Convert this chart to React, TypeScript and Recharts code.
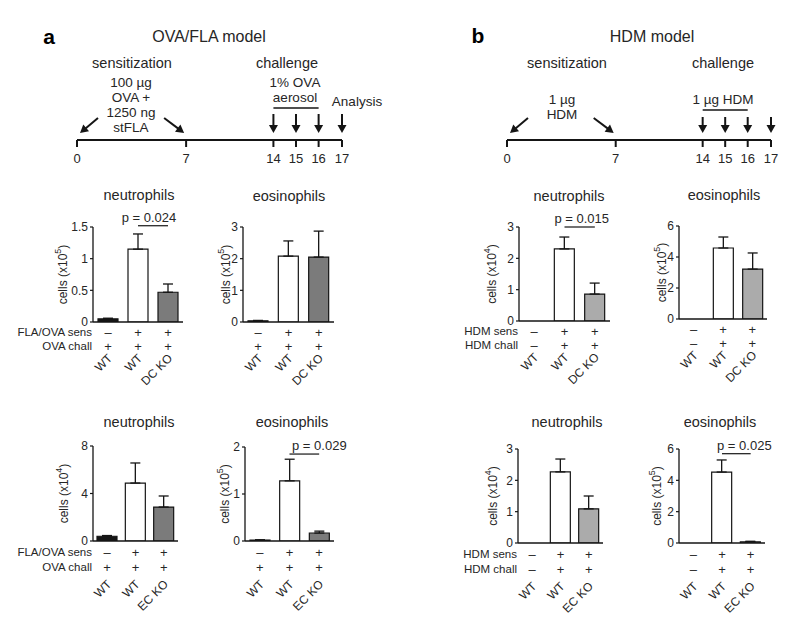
import React from 'react';
import {
  BarChart, Bar, XAxis, YAxis, ErrorBar, Cell, ReferenceLine, ScatterChart, Scatter,
} from 'recharts';

const FONT = '"Liberation Sans", Arial, Helvetica, sans-serif';
const INK = '#262626';
const LINE = '#151515';

// ---- timeline (schematic, compressed after day 7) ----
const timelineDays = ['0', '7', '14', '15', '16', '17'];
const timelinePos = [0, 7, 12.6, 14.05, 15.5, 17];
const arrowDirs = ['dl', 'dr', 'd', 'd', 'd', 'd'];

// ---- groups and row annotations ----
const groups = ['ctrl', 'wt', 'ko'];
const ovaSens = ['–', '+', '+'];
const ovaChall = ['+', '+', '+'];
const hdmSens = ['–', '+', '+'];
const hdmChall = ['–', '+', '+'];
const dcGenotypes = ['WT', 'WT', 'DC KO'];
const ecGenotypes = ['WT', 'WT', 'EC KO'];

// ---- values (mean, sem) ----
const ovaDcNeutro = [0.05, 1.15, 0.47];
const ovaDcNeutroSem = [0.01, 0.24, 0.13];
const ovaDcEos = [0.04, 2.08, 2.05];
const ovaDcEosSem = [0.01, 0.48, 0.82];
const ovaEcNeutro = [0.4, 4.88, 2.86];
const ovaEcNeutroSem = [0.06, 1.69, 0.93];
const ovaEcEos = [0.02, 1.28, 0.17];
const ovaEcEosSem = [0.005, 0.46, 0.04];
const hdmDcNeutro = [0, 2.3, 0.86];
const hdmDcNeutroSem = [0, 0.38, 0.35];
const hdmDcEos = [0, 4.58, 3.22];
const hdmDcEosSem = [0, 0.71, 1.04];
const hdmEcNeutro = [0, 2.27, 1.09];
const hdmEcNeutroSem = [0, 0.41, 0.41];
const hdmEcEos = [0, 4.53, 0.08];
const hdmEcEosSem = [0, 0.77, 0.03];

// ---- tick sets ----
const ticks15 = [0, 0.5, 1, 1.5];
const ticks2 = [0, 1, 2];
const ticks3 = [0, 1, 2, 3];
const ticks6 = [0, 2, 4, 6];
const ticks8 = [0, 4, 8];

const colorsA = ['#151515', '#ffffff', '#7b7b7b'];
const colorsB = ['#151515', '#ffffff', '#ababab'];

const rowsTop = [10, 24, 37];
const rowsBottom = [11, 26, 44];

const T = ({ x, y, size = 14, bold = false, children }: any) => (
  <div
    style={{
      position: 'absolute', left: x, top: y, transform: 'translate(-50%, -50%)',
      fontSize: size, fontWeight: bold ? 700 : 400, whiteSpace: 'nowrap', lineHeight: 1,
      color: bold ? '#000' : INK,
    }}
  >
    {children}
  </div>
);

function TimelineArrow(props: any) {
  const { cx, cy, payload, len } = props;
  let tail, head;
  if (payload.dir === 'dl') {
    tail = [cx + 21, cy - 22];
    head = [cx + 3, cy - 7];
  } else if (payload.dir === 'dr') {
    tail = [cx - 22, cy - 22];
    head = [cx - 2, cy - 7];
  } else {
    tail = [cx, cy - 7 - len];
    head = [cx, cy - 7];
  }
  const dx = head[0] - tail[0];
  const dy = head[1] - tail[1];
  const d = Math.sqrt(dx * dx + dy * dy);
  const ux = dx / d, uy = dy / d;
  const nx = -uy, ny = ux;
  const hl = 8, hw = 4.5;
  const bx = head[0] - ux * hl, by = head[1] - uy * hl;
  return (
    <g>
      <line x1={tail[0]} y1={tail[1]} x2={bx + ux * 2} y2={by + uy * 2} stroke={LINE} strokeWidth={2} />
      <polygon
        points={`${head[0]},${head[1]} ${bx + nx * hw},${by + ny * hw} ${bx - nx * hw},${by - ny * hw}`}
        fill={LINE}
      />
    </g>
  );
}

function Timeline({ left, plotLeft, plotRight, arrowLen, underline }: any) {
  const W = 400;
  const data = timelinePos.map((p, i) => ({ pos: p, y: 0, dir: arrowDirs[i] }));
  return (
    <div style={{ position: 'absolute', left, top: 0 }}>
      <ScatterChart width={W} height={180} margin={{ top: 100, right: W - plotRight, bottom: 10, left: plotLeft }}>
        <XAxis
          type="number" dataKey="pos" domain={[0, 17]} ticks={timelinePos} interval={0}
          tickFormatter={(v: number) => timelineDays[timelinePos.indexOf(v)]}
          height={30} tickSize={7} tickMargin={7}
          axisLine={{ stroke: LINE, strokeWidth: 2 }}
          tickLine={{ stroke: LINE, strokeWidth: 2 }}
          tick={{ fill: INK, fontSize: 13, fontFamily: FONT }}
        />
        <YAxis type="number" dataKey="y" domain={[0, 1]} hide width={0} />
        <ReferenceLine
          segment={[{ x: timelinePos[2], y: underline }, { x: timelinePos[4], y: underline }]}
          stroke={LINE} strokeWidth={1.5} ifOverflow="visible"
        />
        <Scatter
          data={data}
          isAnimationActive={false}
          shape={(p: any) => <TimelineArrow {...p} len={arrowLen} />}
        />
      </ScatterChart>
    </div>
  );
}

const ML = 110, MT = 50, MR = 26, MB = 80;

function CellChart({ cfg }: any) {
  const plotW = cfg.x1 - cfg.x0;
  const plotH = cfg.y0 - cfg.yTop;
  const catW = plotW / groups.length;
  const data = groups.map((g, i) => ({ group: g, value: cfg.values[i], err: [0, cfg.sem[i]] }));

  const renderTick = (props: any) => {
    const { x, y, payload } = props;
    const i = groups.indexOf(payload.value);
    const r = cfg.rows;
    const txt = { fill: INK, fontFamily: FONT };
    return (
      <g>
        {i === 0 && cfg.rowLabels && (
          <g>
            <text x={x - catW / 2 - 1} y={y + r[0]} textAnchor="end" dominantBaseline="central" fontSize={11.5} {...txt}>
              {cfg.rowLabels[0]}
            </text>
            <text x={x - catW / 2 - 1} y={y + r[1]} textAnchor="end" dominantBaseline="central" fontSize={11.5} {...txt}>
              {cfg.rowLabels[1]}
            </text>
          </g>
        )}
        <text x={x} y={y + r[0]} textAnchor="middle" dominantBaseline="central" fontSize={13} {...txt}>
          {cfg.sens[i]}
        </text>
        <text x={x} y={y + r[1]} textAnchor="middle" dominantBaseline="central" fontSize={13} {...txt}>
          {cfg.chall[i]}
        </text>
        <text
          transform={`translate(${x + 5},${y + r[2]}) rotate(-45)`}
          textAnchor="end" fontSize={12} {...txt}
        >
          {cfg.geno[i]}
        </text>
      </g>
    );
  };

  const YLab = () => (
    <text
      transform={`translate(${ML - cfg.labelDx},${MT + plotH / 2}) rotate(-90)`}
      textAnchor="middle" dominantBaseline="central" fontSize={12} fill={INK} fontFamily={FONT}
    >
      cells (x10
      <tspan dy={-5} fontSize={9}>{cfg.exp}</tspan>
      <tspan dy={5}>)</tspan>
    </text>
  );

  return (
    <>
      <div style={{ position: 'absolute', left: cfg.x0 - ML, top: cfg.yTop - MT }}>
        <BarChart
          width={ML + plotW + MR} height={MT + plotH + MB} data={data}
          margin={{ top: MT, right: MR, bottom: 0, left: ML - 50 }}
          barSize={20}
        >
          <XAxis
            dataKey="group" type="category" height={MB} interval={0}
            tickSize={0} tickMargin={0} tickLine={false}
            axisLine={{ stroke: LINE, strokeWidth: 1.3 }}
            tick={renderTick}
          />
          <YAxis
            type="number" width={50} domain={[0, cfg.yMax]} ticks={cfg.ticks} interval={0}
            allowDataOverflow tickSize={3} tickMargin={2}
            axisLine={{ stroke: LINE, strokeWidth: 1.3 }}
            tickLine={{ stroke: LINE, strokeWidth: 1.2 }}
            tick={{ fill: INK, fontSize: 12, fontFamily: FONT }}
            label={<YLab />}
          />
          {cfg.p && (
            <ReferenceLine
              segment={[{ x: groups[1], y: cfg.p.y }, { x: groups[2], y: cfg.p.y }]}
              stroke={LINE} strokeWidth={1.2} ifOverflow="visible"
              label={{ value: cfg.p.text, position: 'top', offset: 4, dx: cfg.p.dx, fill: INK, fontSize: 13, fontFamily: FONT }}
            />
          )}
          <Bar dataKey="value" isAnimationActive={false} stroke={LINE} strokeWidth={1.2}>
            {data.map((d, i) => (
              <Cell key={d.group} fill={cfg.colors[i]} />
            ))}
            <ErrorBar dataKey="err" direction="y" width={5} stroke={LINE} strokeWidth={1.3} />
          </Bar>
        </BarChart>
      </div>
      <T x={cfg.titleX} y={cfg.titleY} size={14.5}>{cfg.title}</T>
    </>
  );
}

const charts = [
  {
    x0: 93, x1: 183, yTop: 227, y0: 322, yMax: 1.5, ticks: ticks15,
    values: ovaDcNeutro, sem: ovaDcNeutroSem, colors: colorsA,
    title: 'neutrophils', titleX: 139, titleY: 195, exp: '5', labelDx: 30,
    p: { text: 'p = 0.024', y: 1.52, dx: -4 },
    sens: ovaSens, chall: ovaChall, geno: dcGenotypes, rowLabels: ['FLA/OVA sens', 'OVA chall'], rows: rowsTop,
  },
  {
    x0: 243, x1: 334, yTop: 227, y0: 322, yMax: 3, ticks: ticks3,
    values: ovaDcEos, sem: ovaDcEosSem, colors: colorsA,
    title: 'eosinophils', titleX: 289, titleY: 196, exp: '5', labelDx: 17,
    sens: ovaSens, chall: ovaChall, geno: dcGenotypes, rows: rowsTop,
  },
  {
    x0: 93, x1: 178, yTop: 446, y0: 541, yMax: 8, ticks: ticks8,
    values: ovaEcNeutro, sem: ovaEcNeutroSem, colors: colorsA,
    title: 'neutrophils', titleX: 139, titleY: 422, exp: '4', labelDx: 29,
    sens: ovaSens, chall: ovaChall, geno: ecGenotypes, rowLabels: ['FLA/OVA sens', 'OVA chall'], rows: rowsBottom,
  },
  {
    x0: 245, x1: 334, yTop: 447, y0: 541, yMax: 2, ticks: ticks2,
    values: ovaEcEos, sem: ovaEcEosSem, colors: colorsA,
    title: 'eosinophils', titleX: 292, titleY: 422, exp: '5', labelDx: 20,
    p: { text: 'p = 0.029', y: 1.85, dx: 15 },
    sens: ovaSens, chall: ovaChall, geno: ecGenotypes, rows: rowsBottom,
  },
  {
    x0: 519, x1: 610, yTop: 227, y0: 321, yMax: 3, ticks: ticks3,
    values: hdmDcNeutro, sem: hdmDcNeutroSem, colors: colorsB,
    title: 'neutrophils', titleX: 569, titleY: 196, exp: '4', labelDx: 27,
    p: { text: 'p = 0.015', y: 3.0, dx: 2 },
    sens: hdmSens, chall: hdmChall, geno: dcGenotypes, rowLabels: ['HDM sens', 'HDM chall'], rows: rowsTop,
  },
  {
    x0: 679, x1: 767, yTop: 226, y0: 319, yMax: 6, ticks: ticks6,
    values: hdmDcEos, sem: hdmDcEosSem, colors: colorsB,
    title: 'eosinophils', titleX: 724, titleY: 195, exp: '5', labelDx: 17,
    sens: hdmSens, chall: hdmChall, geno: dcGenotypes, rows: rowsTop,
  },
  {
    x0: 518, x1: 603, yTop: 449, y0: 543, yMax: 3, ticks: ticks3,
    values: hdmEcNeutro, sem: hdmEcNeutroSem, colors: colorsB,
    title: 'neutrophils', titleX: 567, titleY: 422, exp: '4', labelDx: 25,
    sens: hdmSens, chall: hdmChall, geno: ecGenotypes, rowLabels: ['HDM sens', 'HDM chall'], rows: rowsBottom,
  },
  {
    x0: 679, x1: 765, yTop: 449, y0: 543, yMax: 6, ticks: ticks6,
    values: hdmEcEos, sem: hdmEcEosSem, colors: colorsB,
    title: 'eosinophils', titleX: 720, titleY: 422, exp: '5', labelDx: 22,
    p: { text: 'p = 0.025', y: 5.7, dx: 8 },
    sens: hdmSens, chall: hdmChall, geno: ecGenotypes, rows: rowsBottom,
  },
];

export default function App() {
  return (
    <div
      style={{
        position: 'absolute', left: 0, top: 0, width: 800, height: 625,
        background: '#fff', fontFamily: FONT, color: INK, overflow: 'hidden',
      }}
    >
      {/* panel a header */}
      <T x={49} y={36} size={21} bold>a</T>
      <T x={209} y={37} size={16}>OVA/FLA model</T>
      <T x={132} y={63} size={14.5}>sensitization</T>
      <T x={131} y={83} size={13.5}>100 µg</T>
      <T x={131} y={98} size={13.5}>OVA +</T>
      <T x={131} y={113} size={13.5}>1250 ng</T>
      <T x={131} y={128} size={13.5}>stFLA</T>
      <T x={287} y={63} size={14.5}>challenge</T>
      <T x={295} y={83} size={13.5}>1% OVA</T>
      <T x={295} y={98} size={13.5}>aerosol</T>
      <T x={357} y={102} size={13.5}>Analysis</T>
      <Timeline left={0} plotLeft={77} plotRight={342} arrowLen={19} underline={0.8} />

      {/* panel b header */}
      <T x={478} y={35} size={21} bold>b</T>
      <T x={652} y={37} size={16}>HDM model</T>
      <T x={567} y={63} size={14.5}>sensitization</T>
      <T x={723} y={63} size={14.5}>challenge</T>
      <T x={562} y={100} size={13.5}>1 µg</T>
      <T x={562} y={115} size={13.5}>HDM</T>
      <T x={723} y={100} size={13.5}>1 µg HDM</T>
      <Timeline left={400} plotLeft={107} plotRight={371} arrowLen={16} underline={0.75} />

      {charts.map((c, i) => (
        <CellChart key={i} cfg={c} />
      ))}
    </div>
  );
}
